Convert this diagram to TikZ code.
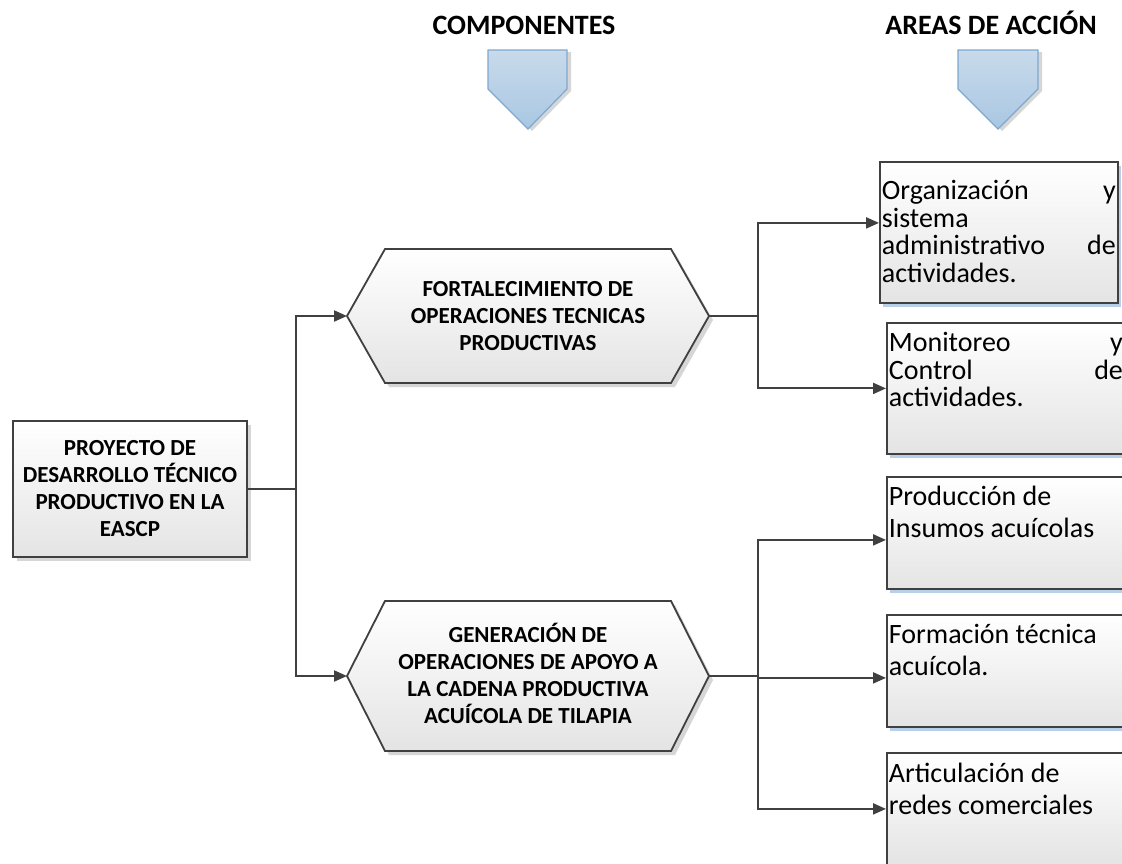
\documentclass[tikz,border=0pt]{standalone}
\usepackage{fontspec}
\setmainfont{Carlito}
\usetikzlibrary{arrows.meta,shadows}

\definecolor{linegray}{HTML}{404040}
\definecolor{shadowgray}{HTML}{D6D6D6}
\definecolor{shadowblue}{HTML}{B7CFE8}
\definecolor{penttop}{HTML}{C8DAEB}
\definecolor{pentbot}{HTML}{A9C7E2}
\definecolor{pentedge}{HTML}{7FA8D0}
\definecolor{boxbot}{HTML}{E4E4E4}

% strut giving every bold line the same height and depth
\newcommand\hxstrut{\rule[-6.1pt]{0pt}{27pt}}

\begin{document}
\begin{tikzpicture}[x=1pt,y=-1pt,
  conn/.style={draw=linegray, line width=2pt, -{Triangle[length=13pt,width=11pt]}},
  head/.style={anchor=base, inner sep=0pt, font=\fontsize{28}{34}\selectfont\bfseries},
  pent/.style={draw=pentedge, line width=1.2pt, top color=penttop, bottom color=pentbot,
    drop shadow={shadow xshift=4pt, shadow yshift=-2pt, fill=shadowgray, opacity=1}},
  hexfill/.style={draw=linegray, line width=1.8pt, top color=white, bottom color=boxbot,
    drop shadow={shadow xshift=4pt, shadow yshift=-4pt, fill=shadowgray, opacity=1}},
  hextext/.style={inner sep=0pt, align=center, font=\fontsize{23}{27}\selectfont\bfseries},
  lbox/.style={draw=linegray, line width=1.8pt, top color=white, bottom color=boxbot,
    minimum width=234pt, minimum height=136pt, inner sep=0pt, align=center,
    font=\fontsize{23}{27}\selectfont\bfseries,
    drop shadow={shadow xshift=4pt, shadow yshift=-4pt, fill=shadowgray, opacity=1}},
  abox/.style={draw=linegray, line width=1.8pt, top color=white, bottom color=boxbot,
    anchor=north west, inner xsep=2pt, inner ysep=0pt,
    drop shadow={shadow xshift=3pt, shadow yshift=-4pt, fill=shadowblue, opacity=1}}
]
\useasboundingbox (0,0) rectangle (1122,863);
\fill[white] (0,0) rectangle (1122,863);

% column headings with their down arrows
\node[head] (hcomp) at (524,34) {COMPONENTES};
\node[head] (hareas) at (991,34) {AREAS DE ACCIÓN};
\path[pent] (488,50) -- (567,50) -- (567,89) -- (528,129) -- (488,89) -- cycle;
\path[pent] (958,50) -- (1038,50) -- (1038,89) -- (998,129) -- (958,89) -- cycle;

% project box
\node[lbox] (lb) at (130,489)
  {\hxstrut PROYECTO DE\\\hxstrut DESARROLLO TÉCNICO\\\hxstrut PRODUCTIVO EN LA\\\hxstrut EASCP};

% component hexagons
\path[hexfill] (347,316) -- (385,249) -- (671,249) -- (709,316) -- (671,383) -- (385,383) -- cycle;
\coordinate (h1w) at (347,316);
\coordinate (h1e) at (709,316);
\node[hextext] (h1) at (528,316)
  {\hxstrut FORTALECIMIENTO DE\\\hxstrut OPERACIONES TECNICAS\\\hxstrut PRODUCTIVAS};

\path[hexfill] (347,676) -- (385,601) -- (671,601) -- (709,676) -- (671,751) -- (385,751) -- cycle;
\coordinate (h2w) at (347,676);
\coordinate (h2e) at (709,676);
\node[hextext] (h2) at (528,676)
  {\hxstrut GENERACIÓN DE\\\hxstrut OPERACIONES DE APOYO A\\\hxstrut LA CADENA PRODUCTIVA\\\hxstrut ACUÍCOLA DE TILAPIA};

% areas of action
\node[abox] (b1) at (879,161) {\parbox[c][141pt][t]{234pt}{\fontsize{28}{27.5}\selectfont\lineskiplimit=-100pt
  \rule{0pt}{38pt}Organización\hfill y\\ sistema\\ administrativo\hfill de\\ actividades.}};
\node[abox] (b2) at (886,322) {\parbox[c][131pt][t]{234pt}{\fontsize{28}{27.5}\selectfont\lineskiplimit=-100pt
  \rule{0pt}{29pt}Monitoreo\hfill y\\ Control\hfill de\\ actividades.}};
\node[abox] (b3) at (886,476) {\parbox[c][112pt][t]{234pt}{\fontsize{28}{32}\selectfont\lineskiplimit=-100pt
  \rule{0pt}{29pt}Producción de\\ Insumos acuícolas}};
\node[abox] (b4) at (886,614) {\parbox[c][112pt][t]{234pt}{\fontsize{28}{32}\selectfont\lineskiplimit=-100pt
  \rule{0pt}{29pt}Formación técnica\\ acuícola.}};
\node[abox] (b5) at (886,752) {\parbox[c][112pt][t]{234pt}{\fontsize{28}{32}\selectfont\lineskiplimit=-100pt
  \rule{0pt}{30pt}Articulación de\\ redes comerciales}};

% connectors
\draw[conn] (lb.east) -- (296,489) |- (h1w);
\draw[conn] (lb.east) -- (296,489) |- (h2w);
\draw[conn] (h1e) -- (758,316) |- ([yshift=9.5pt]b1.west);
\draw[conn] (h1e) -- (758,316) |- (b2.west);
\draw[conn] (h2e) -- (758,676) |- ([yshift=-7pt]b3.west);
\draw[conn] (h2e) -- (758,676) |- ([yshift=-7pt]b4.west);
\draw[conn] (h2e) -- (758,676) |- (b5.west);
\end{tikzpicture}
\end{document}
